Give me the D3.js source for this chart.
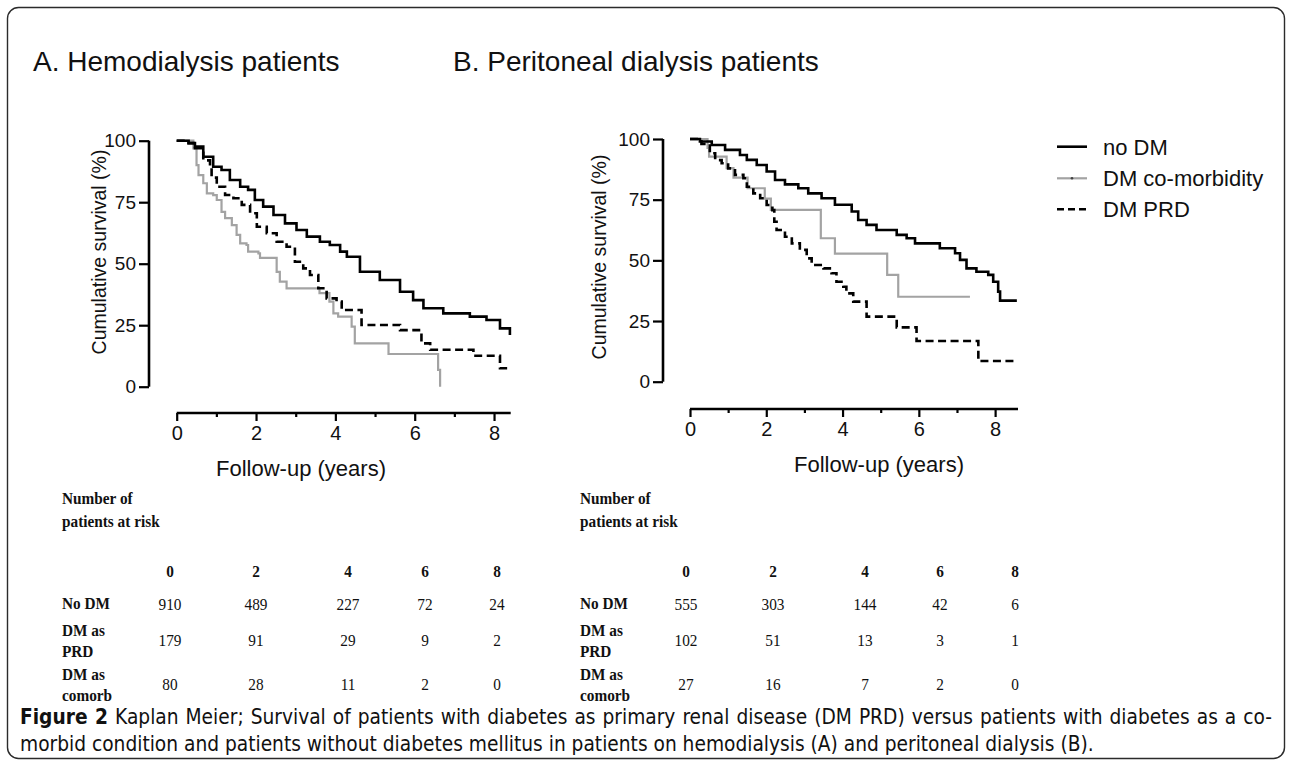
<!DOCTYPE html>
<html><head><meta charset="utf-8">
<script src="https://cdn.jsdelivr.net/npm/d3@7"></script>
<style>body{margin:0;background:#fff}svg{display:block}</style>
</head><body><svg id="c" width="1292" height="767"></svg>
<script>
// ---------- data ----------
const yearTicks = [0, 2, 4, 6, 8];
const minorYearTicks = [1, 3, 5, 7];
const survTicks = [0, 25, 50, 75, 100];
const seriesNames = ["no DM", "DM co-morbidity", "DM PRD"];
const panelTitles = ["A. Hemodialysis patients", "B. Peritoneal dialysis patients"];

// Panel A (hemodialysis)
const hdNoDmT = [0, 0.3, 0.46, 0.67, 0.92, 1.13, 1.34, 1.6, 1.8, 1.97, 2.18, 2.44, 2.73, 3.02, 3.28, 3.61, 3.86, 4.12, 4.29, 4.62, 5.12, 5.63, 5.96, 6.22, 6.72, 7.39, 7.81, 8.15, 8.4];
const hdNoDmS = [100, 99, 97.6, 93.5, 89.4, 88.1, 84, 81.3, 80, 75.9, 73.2, 69.8, 66.4, 63.7, 61, 58.9, 57.6, 54.9, 52.8, 46.7, 43.4, 38.6, 35.2, 31.9, 29.8, 28.5, 27.1, 23.7, 21];
const hdComT = [0, 0.42, 0.5, 0.55, 0.67, 0.76, 0.92, 1.01, 1.13, 1.22, 1.39, 1.51, 1.6, 1.76, 1.8, 2.06, 2.1, 2.52, 2.6, 2.77, 3.6, 3.85, 3.95, 4.07, 4.41, 4.49, 5.34, 6.59, 6.64];
const hdComS = [100, 96.9, 90.1, 86, 82.7, 78.6, 77.9, 75.9, 71.1, 68.5, 65.7, 61.7, 58.3, 57.6, 54.9, 54.2, 52.4, 46.7, 42.7, 40, 38, 34.6, 29.8, 28.5, 24.4, 17.6, 13.3, 6.8, 0];
const hdPrdT = [0, 0.3, 0.46, 0.67, 0.84, 0.88, 1.01, 1.22, 1.43, 1.64, 1.85, 2.02, 2.27, 2.52, 2.77, 2.98, 3.19, 3.36, 3.57, 3.78, 4.03, 4.16, 4.66, 5.63, 6.17, 6.39, 7.48, 8.15, 8.4];
const hdPrdS = [100, 99, 97, 92, 89, 85, 81.3, 77.9, 76.6, 73.9, 70.5, 65, 62.4, 58.9, 56.9, 50.8, 48.1, 45.4, 40, 35.9, 34.6, 31.2, 25.1, 23, 17.6, 15, 12.6, 7.5, 7.5];

// Panel B (peritoneal dialysis)
const pdNoDmT = [0, 0.26, 0.57, 0.92, 1.31, 1.49, 1.75, 2.01, 2.23, 2.49, 2.84, 3.1, 3.45, 3.8, 4.24, 4.41, 4.63, 4.89, 5.42, 5.68, 5.9, 6.55, 6.95, 7.08, 7.25, 7.51, 7.82, 7.95, 8.08, 8.13, 8.57];
const pdNoDmS = [100, 99, 97.5, 95.5, 93.4, 91.4, 89.3, 86.6, 83.1, 81.3, 79.7, 77.6, 75.6, 72.9, 70.1, 66.6, 64.6, 62.5, 60.5, 59.1, 57, 55, 52.9, 50.2, 46.7, 45.3, 44, 41.2, 37.1, 33.4, 33.4];
const pdComT = [0, 0.46, 0.5, 0.96, 1.14, 1.51, 1.96, 2.12, 3.43, 3.8, 5.17, 5.46, 7.34];
const pdComS = [100, 96.3, 92.7, 88, 84.1, 79.7, 75.4, 70.8, 59.1, 52.8, 44, 35, 35];
const pdPrdT = [0, 0.3, 0.52, 0.66, 0.83, 1.0, 1.18, 1.4, 1.49, 1.66, 1.84, 2.01, 2.16, 2.21, 2.27, 2.49, 2.67, 2.88, 3.06, 3.19, 3.5, 3.71, 3.84, 4.02, 4.1, 4.28, 4.63, 5.42, 5.94, 7.56, 8.57];
const pdPrdS = [100, 98, 94.1, 91.3, 90, 87.9, 85.2, 83.8, 80.3, 77.6, 75.6, 72.8, 70.7, 65.9, 62.5, 59.7, 57, 54.3, 50.8, 48.1, 46.7, 44.7, 41.2, 39.1, 36.4, 33, 26.8, 22.4, 16.8, 8.5, 8.5];

// Numbers at risk
const riskHeader = ["Number of", "patients at risk"];
const riskYears = [0, 2, 4, 6, 8];
const riskRowLabels = [["No DM"], ["DM as", "PRD"], ["DM as", "comorb"]];
const hdRisk = [[910, 489, 227, 72, 24], [179, 91, 29, 9, 2], [80, 28, 11, 2, 0]];
const pdRisk = [[555, 303, 144, 42, 6], [102, 51, 13, 3, 1], [27, 16, 7, 2, 0]];

const captionBold = "Figure 2";
const captionLine1 = " Kaplan Meier; Survival of patients with diabetes as primary renal disease (DM PRD) versus patients with diabetes as a co-";
const captionLine2 = "morbid condition and patients without diabetes mellitus in patients on hemodialysis (A) and peritoneal dialysis (B).";

// ---------- layout / styles ----------
const SANS = "'Liberation Sans', Arial, Helvetica, sans-serif";
const SERIF = "'Liberation Serif', 'Times New Roman', serif";
const CAP = "'DejaVu Sans Condensed', 'Liberation Sans Narrow', 'Liberation Sans', sans-serif";
const seriesStyle = [
  {stroke: "#000", width: 2.6, dash: null},
  {stroke: "#a3a3a3", width: 2.2, dash: null},
  {stroke: "#000", width: 2.6, dash: "8,4.5"}
];

const panels = [
  {title: panelTitles[0], titleX: 33, xr: [176.7, 510.7], xmax: 8.42, yr: [386.7, 140.7], yAxisX: 149, xAxisY: 413,
   ylabX: 106, ylabY: 252, xlabX: 301, xlabY: 476,
   series: [[hdNoDmT, hdNoDmS], [hdComT, hdComS], [hdPrdT, hdPrdS]],
   risk: hdRisk, tableX: 62, cols: [170, 256, 348, 425, 497]},
  {title: panelTitles[1], titleX: 453, xr: [690, 1018], xmax: 8.6, yr: [381.7, 139], yAxisX: 663, xAxisY: 409,
   ylabX: 606, ylabY: 257, xlabX: 879, xlabY: 472,
   series: [[pdNoDmT, pdNoDmS], [pdComT, pdComS], [pdPrdT, pdPrdS]],
   risk: pdRisk, tableX: 580, cols: [686, 773, 865, 940, 1015]}
];

const svg = d3.select("#c");

// frame
svg.append("rect").attr("x", 7.5).attr("y", 7.5).attr("width", 1277).attr("height", 751)
  .attr("rx", 11).attr("fill", "#fff").attr("stroke", "#2b2b2b").attr("stroke-width", 1.4);

panels.forEach(p => {
  const g = svg.append("g");
  g.append("text").attr("x", p.titleX).attr("y", 71).attr("font-family", SANS).attr("font-size", 28)
    .attr("fill", "#111").text(p.title);

  const x = d3.scaleLinear().domain([0, p.xmax]).range(p.xr);
  const y = d3.scaleLinear().domain([0, 100]).range(p.yr);

  // y axis
  const ya = g.append("g").attr("transform", `translate(${p.yAxisX},0)`)
    .call(d3.axisLeft(y).tickValues(survTicks).tickSize(10).tickSizeOuter(0).tickPadding(3));
  ya.select(".domain").attr("stroke-width", 2.6).attr("d", `M0,${y(100)}V${y(0)}`);
  ya.selectAll(".tick line").attr("stroke-width", 2.2);
  ya.selectAll(".tick text").attr("font-family", SANS).attr("font-size", 19).attr("fill", "#111");

  // x axis
  const xa = g.append("g").attr("transform", `translate(0,${p.xAxisY})`)
    .call(d3.axisBottom(x).tickValues(yearTicks).tickSize(8).tickSizeOuter(0).tickPadding(5));
  xa.select(".domain").attr("stroke-width", 2.6).attr("d", `M${x(0)},0H${x(p.xmax)}`);
  xa.selectAll(".tick line").attr("stroke-width", 2.2);
  xa.selectAll(".tick text").attr("font-family", SANS).attr("font-size", 20).attr("fill", "#111");
  const xm = g.append("g").attr("transform", `translate(0,${p.xAxisY})`)
    .call(d3.axisBottom(x).tickValues(minorYearTicks).tickSize(4).tickFormat(""));
  xm.select(".domain").remove();
  xm.selectAll(".tick line").attr("stroke-width", 2.2);

  // axis labels
  g.append("text").attr("transform", `translate(${p.ylabX},${p.ylabY}) rotate(-90)`)
    .attr("text-anchor", "middle").attr("font-family", SANS).attr("font-size", 19.5).attr("fill", "#111")
    .text("Cumulative survival (%)");
  g.append("text").attr("x", p.xlabX).attr("y", p.xlabY).attr("text-anchor", "middle")
    .attr("font-family", SANS).attr("font-size", 22).attr("fill", "#111").text("Follow-up (years)");

  // curves
  const line = d3.line().x(d => x(d[0])).y(d => y(d[1])).curve(d3.curveStepAfter);
  [1, 2, 0].forEach(i => {
    const [T, S] = p.series[i];
    const pts = T.map((t, k) => [t, S[k]]);
    const st = seriesStyle[i];
    g.append("path").attr("d", line(pts)).attr("fill", "none").attr("stroke", st.stroke)
      .attr("stroke-width", st.width).attr("stroke-dasharray", st.dash);
  });

  // numbers at risk table
  const tg = g.append("g").attr("font-family", SERIF).attr("fill", "#111");
  const cText = (xx, yy, txt, bold, anchor) => {
    tg.append("text").attr("transform", `translate(${xx},${yy}) scale(0.9,1)`)
      .attr("text-anchor", anchor).attr("font-size", 17).attr("font-weight", bold ? "bold" : "normal").text(txt);
  };
  riskHeader.forEach((h, k) => cText(p.tableX, 504 + k * 23, h, true, "start"));
  riskYears.forEach((yr, k) => cText(p.cols[k], 577, yr, true, "middle"));
  const rowBase = [610, 646, 690];
  riskRowLabels.forEach((lab, r) => {
    if (lab.length === 1) cText(p.tableX, rowBase[r] - 1, lab[0], true, "start");
    else { cText(p.tableX, rowBase[r] - 10, lab[0], true, "start"); cText(p.tableX, rowBase[r] + 11, lab[1], true, "start"); }
    p.risk[r].forEach((v, k) => cText(p.cols[k], rowBase[r], v, false, "middle"));
  });
});

// legend
const lg = svg.append("g");
const legendY = [146.7, 178.3, 209.3];
seriesNames.forEach((n, i) => {
  const st = seriesStyle[i];
  lg.append("line").attr("x1", 1057).attr("x2", 1087).attr("y1", legendY[i]).attr("y2", legendY[i])
    .attr("stroke", st.stroke).attr("stroke-width", st.width).attr("stroke-dasharray", st.dash ? "7,4" : null);
  if (i === 1) lg.append("circle").attr("cx", 1072).attr("cy", legendY[i]).attr("r", 1.3).attr("fill", "#444");
  lg.append("text").attr("x", 1103).attr("y", legendY[i] + 8).attr("font-family", SANS).attr("font-size", 22)
    .attr("fill", "#111").text(n);
});

// caption: size the font so line 1 nearly fills the justified width, then justify with word spacing
const cap1 = svg.append("text").attr("x", 20).attr("y", 724).attr("font-family", CAP).attr("font-size", 17.5).attr("fill", "#111");
cap1.append("tspan").attr("font-weight", "bold").text(captionBold);
cap1.append("tspan").text(captionLine1);
const w0 = cap1.node().getComputedTextLength();
const capFs = 17.5 * 1230 / w0;
cap1.attr("font-size", capFs);
const w1 = cap1.node().getComputedTextLength();
const nSpaces = (captionBold + captionLine1).split(" ").length - 1;
const ws = (1252 - w1) / nSpaces;
if (ws >= 0) cap1.attr("word-spacing", ws);
else cap1.attr("textLength", 1252).attr("lengthAdjust", "spacingAndGlyphs");
svg.append("text").attr("x", 20).attr("y", 751).attr("font-family", CAP).attr("font-size", capFs)
  .attr("fill", "#111").text(captionLine2);
</script>
</body></html>
